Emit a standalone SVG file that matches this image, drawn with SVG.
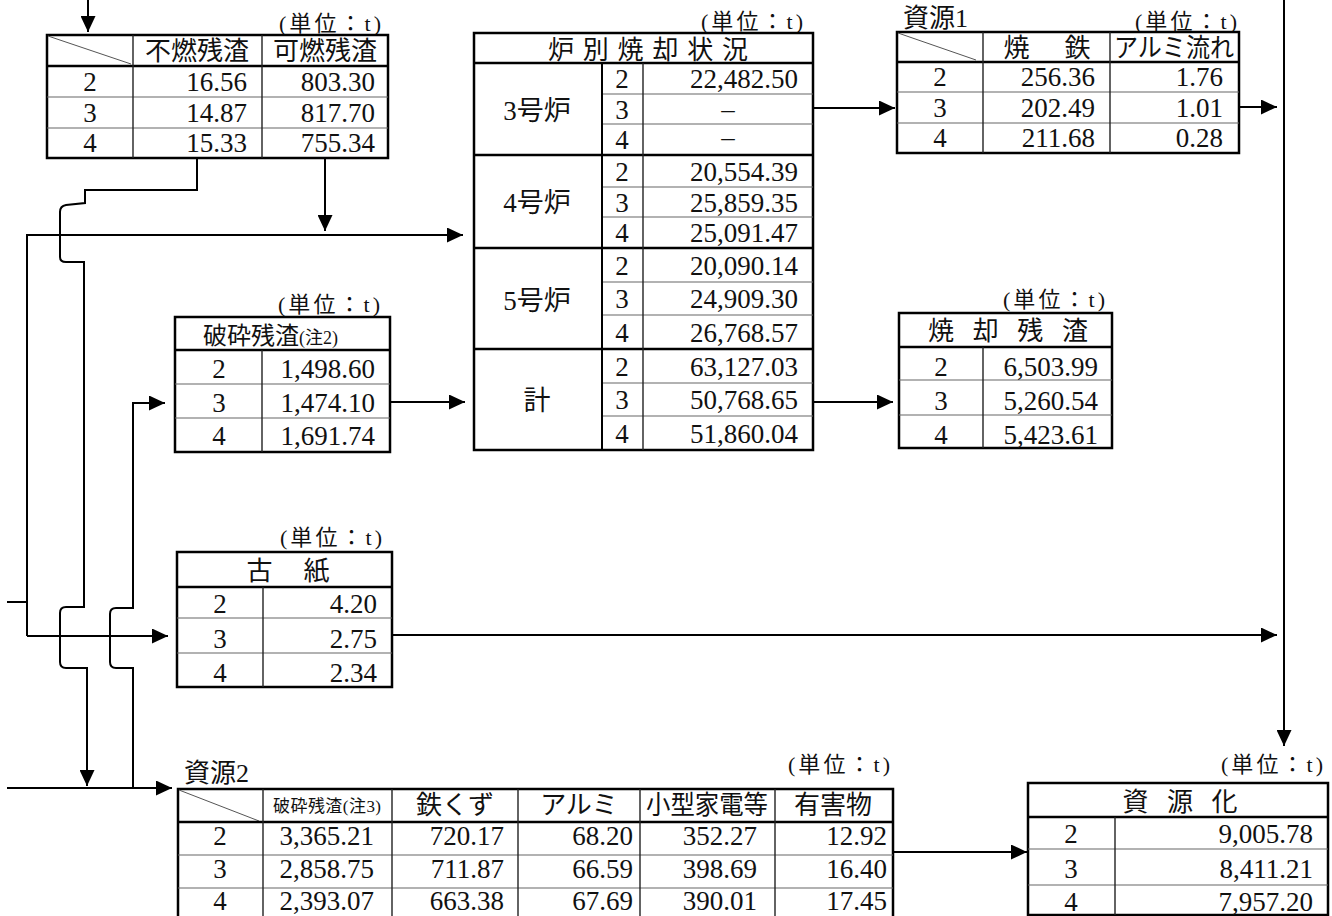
<svg xmlns="http://www.w3.org/2000/svg" width="1332" height="916" viewBox="0 0 1332 916">
<style>
text{font-family:"Liberation Serif","Noto Sans CJK JP",serif;fill:#111;font-size:27px}
.c{text-anchor:middle}
.r{text-anchor:end}
.jp{font-size:26px}
.u{font-size:22px;text-anchor:end}
.ttl{font-size:26px}
.s17{font-size:17px}
.dash{font-size:19px}
.box{fill:#fff;stroke:#000;stroke-width:2.5}
.tk{stroke:#000;stroke-width:2.5}
.vl{stroke:#222;stroke-width:1.4}
.hl{stroke:#666;stroke-width:1.2}
.dg{stroke:#555;stroke-width:1}
.conn path{fill:none;stroke:#000;stroke-width:2}
.ar{marker-end:url(#ah)}
</style>
<defs>
<marker id="ah" markerUnits="userSpaceOnUse" markerWidth="16" markerHeight="15" refX="16" refY="7.5" orient="auto"><path d="M0,0L16,7.5L0,15z" fill="#000"/></marker>
</defs>

<g id="connectors" class="conn">
<path class="ar" d="M88,0V32"/>
<path class="ar" d="M197,158V190H85V203L66,205Q60,206 60,212V257Q60,262 66,262H84V607H66Q60,607 60,613V662Q60,668 66,668H87V786"/>
<path class="ar" d="M325,158V231"/>
<path class="ar" d="M27,636V235H463"/>
<path class="ar" d="M27,636H168"/>
<path d="M7,602H27"/>
<path class="ar" d="M7,788H172"/>
<path class="ar" d="M133,788V668H116Q110,668 110,662V614Q110,608 116,608H133V403H165"/>
<path class="ar" d="M390,402H465"/>
<path class="ar" d="M813,108H895"/>
<path class="ar" d="M813,402H893"/>
<path class="ar" d="M1239,107H1277"/>
<path class="ar" d="M392,635H1277"/>
<path class="ar" d="M1284,0V746"/>
<path class="ar" d="M893,852H1027"/>
</g>

<g id="t1">
<text class="u" x="381" y="31" textLength="102" lengthAdjust="spacing">(単位：t)</text>
<rect class="box" x="47" y="35" width="341" height="123"/>
<line class="dg" x1="48" y1="36" x2="131" y2="64"/>
<line class="tk" x1="47" y1="66" x2="388" y2="66"/>
<line class="hl" x1="47" y1="97" x2="388" y2="97"/>
<line class="hl" x1="47" y1="128" x2="388" y2="128"/>
<line class="vl" x1="133" y1="35" x2="133" y2="158"/>
<line class="vl" x1="262" y1="35" x2="262" y2="158"/>
<text class="jp c" x="197" y="60">不燃残渣</text>
<text class="jp c" x="325" y="60">可燃残渣</text>
<text class="c" x="90" y="91">2</text><text class="r" x="247" y="91">16.56</text><text class="r" x="375" y="91">803.30</text>
<text class="c" x="90" y="122">3</text><text class="r" x="247" y="122">14.87</text><text class="r" x="375" y="122">817.70</text>
<text class="c" x="90" y="152">4</text><text class="r" x="247" y="152">15.33</text><text class="r" x="375" y="152">755.34</text>
</g>

<g id="t2">
<text class="u" x="803" y="29" textLength="102" lengthAdjust="spacing">(単位：t)</text>
<rect class="box" x="474" y="33" width="339" height="417"/>
<line class="tk" x1="474" y1="63" x2="813" y2="63"/>
<line class="tk" x1="474" y1="155" x2="813" y2="155"/>
<line class="tk" x1="474" y1="248" x2="813" y2="248"/>
<line class="tk" x1="474" y1="349" x2="813" y2="349"/>
<line class="hl" x1="602" y1="94" x2="813" y2="94"/>
<line class="hl" x1="602" y1="124" x2="813" y2="124"/>
<line class="hl" x1="602" y1="187" x2="813" y2="187"/>
<line class="hl" x1="602" y1="217" x2="813" y2="217"/>
<line class="hl" x1="602" y1="282" x2="813" y2="282"/>
<line class="hl" x1="602" y1="315" x2="813" y2="315"/>
<line class="hl" x1="602" y1="383" x2="813" y2="383"/>
<line class="hl" x1="602" y1="416" x2="813" y2="416"/>
<line class="tk" x1="602" y1="63" x2="602" y2="450" style="stroke-width:2"/>
<line class="vl" x1="643" y1="63" x2="643" y2="450"/>
<text class="jp c" x="648" y="59" textLength="200" lengthAdjust="spacing">炉別焼却状況</text>
<text class="c" x="537" y="120">3号炉</text>
<text class="c" x="537" y="212">4号炉</text>
<text class="c" x="537" y="310">5号炉</text>
<text class="c" x="537" y="410">計</text>
<text class="c" x="622" y="88">2</text><text class="r" x="798" y="88">22,482.50</text>
<text class="c" x="622" y="119">3</text><text class="dash c" x="728" y="119">－</text>
<text class="c" x="622" y="149">4</text><text class="dash c" x="728" y="147">－</text>
<text class="c" x="622" y="181">2</text><text class="r" x="798" y="181">20,554.39</text>
<text class="c" x="622" y="212">3</text><text class="r" x="798" y="212">25,859.35</text>
<text class="c" x="622" y="242">4</text><text class="r" x="798" y="242">25,091.47</text>
<text class="c" x="622" y="275">2</text><text class="r" x="798" y="275">20,090.14</text>
<text class="c" x="622" y="308">3</text><text class="r" x="798" y="308">24,909.30</text>
<text class="c" x="622" y="342">4</text><text class="r" x="798" y="342">26,768.57</text>
<text class="c" x="622" y="376">2</text><text class="r" x="798" y="376">63,127.03</text>
<text class="c" x="622" y="409">3</text><text class="r" x="798" y="409">50,768.65</text>
<text class="c" x="622" y="443">4</text><text class="r" x="798" y="443">51,860.04</text>
</g>

<g id="t3">
<text class="ttl" x="903" y="27">資源1</text>
<text class="u" x="1237" y="29" textLength="102" lengthAdjust="spacing">(単位：t)</text>
<rect class="box" x="897" y="32" width="342" height="121"/>
<line class="dg" x1="898" y1="33" x2="976" y2="60"/>
<line class="tk" x1="897" y1="62" x2="1239" y2="62"/>
<line class="hl" x1="897" y1="92" x2="1239" y2="92"/>
<line class="hl" x1="897" y1="123" x2="1239" y2="123"/>
<line class="vl" x1="983" y1="32" x2="983" y2="153"/>
<line class="vl" x1="1110" y1="32" x2="1110" y2="153"/>
<text class="jp c" x="1047" y="57" textLength="87" lengthAdjust="spacing">焼　鉄</text>
<text class="jp c" x="1174" y="57" textLength="120" lengthAdjust="spacingAndGlyphs">アルミ流れ</text>
<text class="c" x="940" y="86">2</text><text class="r" x="1095" y="86">256.36</text><text class="r" x="1223" y="86">1.76</text>
<text class="c" x="940" y="117">3</text><text class="r" x="1095" y="117">202.49</text><text class="r" x="1223" y="117">1.01</text>
<text class="c" x="940" y="147">4</text><text class="r" x="1095" y="147">211.68</text><text class="r" x="1223" y="147">0.28</text>
</g>

<g id="t4">
<text class="u" x="1105" y="307" textLength="102" lengthAdjust="spacing">(単位：t)</text>
<rect class="box" x="899" y="313" width="213" height="135"/>
<line class="tk" x1="899" y1="347" x2="1112" y2="347"/>
<line class="hl" x1="899" y1="380" x2="1112" y2="380"/>
<line class="hl" x1="899" y1="415" x2="1112" y2="415"/>
<line class="vl" x1="983" y1="347" x2="983" y2="448"/>
<text class="jp c" x="1008" y="340" textLength="160" lengthAdjust="spacing">焼却残渣</text>
<text class="c" x="941" y="376">2</text><text class="r" x="1098" y="376">6,503.99</text>
<text class="c" x="941" y="410">3</text><text class="r" x="1098" y="410">5,260.54</text>
<text class="c" x="941" y="444">4</text><text class="r" x="1098" y="444">5,423.61</text>
</g>

<g id="t5">
<text class="u" x="380" y="312" textLength="102" lengthAdjust="spacing">(単位：t)</text>
<rect class="box" x="175" y="317" width="215" height="135"/>
<line class="tk" x1="175" y1="350" x2="390" y2="350"/>
<line class="hl" x1="175" y1="384" x2="390" y2="384"/>
<line class="hl" x1="175" y1="418" x2="390" y2="418"/>
<line class="vl" x1="262" y1="350" x2="262" y2="452"/>
<text x="203" y="344"><tspan font-size="24">破砕残渣</tspan><tspan font-size="18">(注2)</tspan></text>
<text class="c" x="219" y="378">2</text><text class="r" x="375" y="378">1,498.60</text>
<text class="c" x="219" y="412">3</text><text class="r" x="375" y="412">1,474.10</text>
<text class="c" x="219" y="445">4</text><text class="r" x="375" y="445">1,691.74</text>
</g>

<g id="t6">
<text class="u" x="382" y="545" textLength="102" lengthAdjust="spacing">(単位：t)</text>
<rect class="box" x="177" y="552" width="215" height="135"/>
<line class="tk" x1="177" y1="587" x2="392" y2="587"/>
<line class="hl" x1="177" y1="618" x2="392" y2="618"/>
<line class="hl" x1="177" y1="653" x2="392" y2="653"/>
<line class="vl" x1="263" y1="587" x2="263" y2="687"/>
<text class="jp c" x="288" y="580" textLength="83" lengthAdjust="spacing">古　紙</text>
<text class="c" x="220" y="613">2</text><text class="r" x="377" y="613">4.20</text>
<text class="c" x="220" y="648">3</text><text class="r" x="377" y="648">2.75</text>
<text class="c" x="220" y="682">4</text><text class="r" x="377" y="682">2.34</text>
</g>

<g id="t7">
<text class="ttl" x="184" y="782">資源2</text>
<text class="u" x="890" y="772" textLength="102" lengthAdjust="spacing">(単位：t)</text>
<rect class="box" x="178" y="789" width="715" height="135"/>
<line class="dg" x1="179" y1="790" x2="259" y2="821"/>
<line class="tk" x1="178" y1="822" x2="893" y2="822"/>
<line class="hl" x1="178" y1="855" x2="893" y2="855"/>
<line class="hl" x1="178" y1="888" x2="893" y2="888"/>
<line class="vl" x1="263" y1="789" x2="263" y2="924"/>
<line class="vl" x1="392" y1="789" x2="392" y2="924"/>
<line class="vl" x1="518" y1="789" x2="518" y2="924"/>
<line class="vl" x1="640" y1="789" x2="640" y2="924"/>
<line class="vl" x1="775" y1="789" x2="775" y2="924"/>
<text class="s17 c" x="327" y="812" textLength="108" lengthAdjust="spacing">破砕残渣(注3)</text>
<text class="jp c" x="455" y="814">鉄くず</text>
<text class="jp c" x="579" y="814">アルミ</text>
<text class="jp c" x="707" y="814" textLength="122" lengthAdjust="spacingAndGlyphs">小型家電等</text>
<text class="jp c" x="833" y="814">有害物</text>
<text class="c" x="220" y="845">2</text><text class="r" x="374" y="845">3,365.21</text><text class="r" x="504" y="845">720.17</text><text class="r" x="633" y="845">68.20</text><text class="r" x="757" y="845">352.27</text><text class="r" x="887" y="845">12.92</text>
<text class="c" x="220" y="878">3</text><text class="r" x="374" y="878">2,858.75</text><text class="r" x="504" y="878">711.87</text><text class="r" x="633" y="878">66.59</text><text class="r" x="757" y="878">398.69</text><text class="r" x="887" y="878">16.40</text>
<text class="c" x="220" y="910">4</text><text class="r" x="374" y="910">2,393.07</text><text class="r" x="504" y="910">663.38</text><text class="r" x="633" y="910">67.69</text><text class="r" x="757" y="910">390.01</text><text class="r" x="887" y="910">17.45</text>
</g>

<g id="t8">
<text class="u" x="1323" y="772" textLength="102" lengthAdjust="spacing">(単位：t)</text>
<rect class="box" x="1028" y="783" width="300" height="132"/>
<line class="tk" x1="1028" y1="817" x2="1328" y2="817"/>
<line class="hl" x1="1028" y1="849" x2="1328" y2="849"/>
<line class="hl" x1="1028" y1="885" x2="1328" y2="885"/>
<line class="vl" x1="1115" y1="817" x2="1115" y2="915"/>
<text class="jp c" x="1180" y="811" textLength="115" lengthAdjust="spacing">資源化</text>
<text class="c" x="1071" y="843">2</text><text class="r" x="1313" y="843">9,005.78</text>
<text class="c" x="1071" y="878">3</text><text class="r" x="1313" y="878">8,411.21</text>
<text class="c" x="1071" y="911">4</text><text class="r" x="1313" y="911">7,957.20</text>
</g>
</svg>
